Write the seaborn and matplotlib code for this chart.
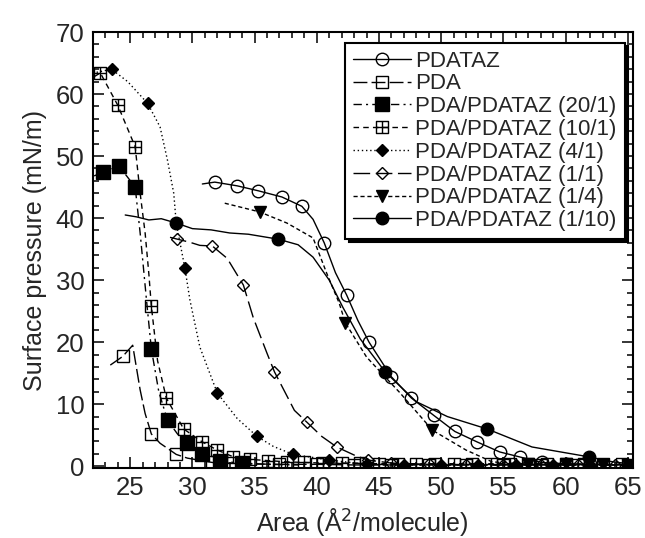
import numpy as np
import pandas as pd
import seaborn as sns
import matplotlib.pyplot as plt
from matplotlib.path import Path
from matplotlib.ticker import MultipleLocator

sns.set_style('ticks')
plt.rcParams['font.family'] = ['Liberation Sans', 'DejaVu Sans']

# data (area in A^2/molecule, pressure in mN/m)
pdataz_x = [30.8, 31.8, 33.6, 35.3, 37.2, 38.8, 39.7, 40.6, 41.5, 42.4, 43.3, 44.2, 46.0, 47.6,
            49.4, 51.1, 52.9, 54.7, 56.3, 58.1, 60.0, 62.0, 64.0, 65.4]
pdataz_y = [45.5, 45.8, 45.2, 44.4, 43.4, 41.9, 39.8, 36.0, 31.2, 27.6, 23.5, 20.0, 14.4, 11.0,
            8.2, 5.6, 3.9, 2.3, 1.5, 0.6, 0.4, 0.3, 0.2, 0.2]
pdataz_mk = [1, 2, 3, 4, 5, 7, 9, 11, 12, 13, 14, 15, 16, 17, 18, 19, 20, 21]

pda_x = [23.4, 24.4, 25.2, 25.8, 26.2, 26.7, 27.4, 28.2, 28.7, 29.6, 31.6, 34.0, 37.0, 40.0,
         43.0, 46.0, 49.0, 52.0, 55.0, 58.0, 61.0]
pda_y = [16.3, 17.7, 19.5, 12.3, 8.5, 5.2, 3.7, 2.6, 1.9, 1.3, 0.6, 0.4, 0.3, 0.3,
         0.2, 0.2, 0.2, 0.2, 0.2, 0.2, 0.2]
pda_mk = [1, 5, 8, 10, 11, 12, 13, 14, 15, 16, 17, 18, 19, 20]

p20_x = [22.1, 22.8, 24.1, 25.4, 25.8, 26.3, 26.7, 27.3, 28.0, 28.8, 29.6, 30.8, 32.2, 34.0, 36.0, 38.5]
p20_y = [46.8, 47.4, 48.4, 45.0, 37.6, 27.0, 18.9, 12.0, 7.4, 5.2, 3.7, 1.9, 0.8, 0.5, 0.3, 0.2]
p20_mk = [1, 2, 3, 6, 8, 10, 11, 12, 13]

p10_x = [22.1, 22.6, 24.0, 25.4, 25.8, 26.2, 26.5, 26.7, 27.2, 27.9, 29.3, 30.8, 32.0, 33.3,
         34.6, 36.1, 37.6, 39.0, 40.5, 42.0, 43.5, 45.0, 46.5, 48.0, 49.5, 51.0, 52.5, 54.0,
         55.5, 57.0, 58.5, 60.0, 61.5, 63.0, 64.5]
p10_y = [62.8, 63.4, 58.2, 51.5, 44.0, 37.6, 31.0, 25.8, 17.0, 11.0, 6.0, 3.9, 2.6, 1.5,
         1.1, 0.9, 0.7, 0.6, 0.5, 0.5, 0.5, 0.4, 0.4, 0.4, 0.4, 0.4, 0.4, 0.4,
         0.4, 0.4, 0.4, 0.4, 0.3, 0.3, 0.3]
p10_mk = [1, 2, 3, 7] + list(range(9, 35))

p4_x = [22.3, 23.5, 24.8, 26.4, 27.4, 28.0, 28.5, 28.7, 29.4, 29.8, 30.6, 32.0, 33.6, 35.2,
        36.5, 38.1, 41.0, 44.0, 47.0, 50.0, 53.0, 56.0, 59.0, 62.0, 65.0]
p4_y = [63.5, 64.0, 62.0, 58.5, 54.7, 49.3, 44.0, 39.2, 31.9, 26.8, 19.2, 11.8, 7.7, 4.8,
        3.2, 1.9, 1.0, 0.3, 0.2, 0.2, 0.2, 0.2, 0.2, 0.2, 0.2]
p4_mk = [1, 3, 7, 8, 11, 13, 15, 16, 17, 18, 19, 20, 21, 22, 23, 24]

p11_x = [28.2, 28.8, 29.8, 30.6, 31.6, 32.8, 34.1, 34.9, 36.0, 36.6, 38.2, 39.2, 40.4, 41.6,
         43.0, 44.1, 46.0, 49.0, 52.0, 55.0, 58.0, 61.0, 64.0]
p11_y = [36.9, 36.6, 36.1, 35.6, 35.5, 33.5, 29.2, 23.9, 18.2, 15.2, 9.0, 7.1, 4.8, 3.1,
         1.8, 1.0, 0.5, 0.3, 0.2, 0.2, 0.2, 0.2, 0.2]
p11_mk = [1, 4, 6, 9, 11, 13, 15, 16, 17, 18, 19, 20, 21, 22]

p14_x = [32.6, 35.4, 37.6, 39.7, 40.8, 41.8, 42.3, 44.0, 46.7, 49.3, 52.0, 54.1, 57.0, 60.0, 63.0, 65.0]
p14_y = [42.4, 41.0, 39.2, 36.8, 31.1, 26.3, 23.1, 17.6, 11.8, 5.8, 2.6, 0.7, 0.3, 0.3, 0.2, 0.2]
p14_mk = [1, 6, 9, 12, 13, 14, 15]

p110_x = [24.6, 25.5, 26.5, 27.5, 28.7, 30.0, 31.5, 33.0, 34.5, 36.9, 38.5, 39.7, 41.0, 42.1,
          43.5, 45.5, 48.0, 50.5, 53.7, 57.3, 61.9, 63.5, 65.4]
p110_y = [40.5, 40.2, 39.7, 39.9, 39.2, 38.3, 38.1, 37.6, 37.4, 36.6, 35.7, 33.7, 30.0, 25.6,
          20.5, 15.2, 10.4, 8.0, 6.0, 3.1, 1.5, 0.8, 0.3]
p110_mk = [4, 9, 15, 18, 20]

# square with a cross inside
boxplus = Path([(-1, -1), (1, -1), (1, 1), (-1, 1), (-1, -1), (0, -1), (0, 1), (-1, 0), (1, 0)],
               [Path.MOVETO, Path.LINETO, Path.LINETO, Path.LINETO, Path.CLOSEPOLY,
                Path.MOVETO, Path.LINETO, Path.MOVETO, Path.LINETO])

series = [
    ('PDATAZ', pdataz_x, pdataz_y, pdataz_mk, '-', 'o', 'none', 9),
    ('PDA', pda_x, pda_y, pda_mk, (0, (10, 3)), 's', 'none', 8),
    ('PDA/PDATAZ (20/1)', p20_x, p20_y, p20_mk, (0, (6, 3, 1.5, 3)), 's', 'black', 10),
    ('PDA/PDATAZ (10/1)', p10_x, p10_y, p10_mk, (0, (4, 3)), boxplus, 'none', 8),
    ('PDA/PDATAZ (4/1)', p4_x, p4_y, p4_mk, (0, (1, 2)), 'D', 'black', 6),
    ('PDA/PDATAZ (1/1)', p11_x, p11_y, p11_mk, (0, (12, 4)), 'D', 'none', 6),
    ('PDA/PDATAZ (1/4)', p14_x, p14_y, p14_mk, (0, (3, 2)), 'v', 'black', 8),
    ('PDA/PDATAZ (1/10)', p110_x, p110_y, p110_mk, '-', 'o', 'black', 9),
]

fig = plt.figure(figsize=(6.45, 5.38), dpi=100)
ax = fig.add_axes([0.144, 0.130, 0.837, 0.8105])

for name, xs, ys, mk, ls, marker, fc, ms in series:
    df = pd.DataFrame({'area': xs, 'pressure': ys})
    sns.lineplot(data=df, x='area', y='pressure', ax=ax, sort=False, estimator=None,
                 color='black', linewidth=1.0, linestyle=ls, marker=marker,
                 markerfacecolor=fc, markeredgecolor='black', markeredgewidth=1.0,
                 markersize=ms, markevery=mk, label=name)

ax.set_xlim(22, 65.4)
ax.set_ylim(-0.3, 70)
ax.xaxis.set_major_locator(MultipleLocator(5))
ax.xaxis.set_minor_locator(MultipleLocator(1))
ax.yaxis.set_major_locator(MultipleLocator(10))
ax.yaxis.set_minor_locator(MultipleLocator(2))
ax.tick_params(which='both', direction='in', top=True, right=True, width=1.3, labelsize=18.5)
ax.tick_params(which='major', length=8, pad=6)
ax.tick_params(which='minor', length=4)
for s in ax.spines.values():
    s.set_linewidth(1.5)
    s.set_color('black')

ax.set_xlabel('Area (Å$^2$/molecule)', fontsize=18, labelpad=4)
ax.set_ylabel('Surface pressure (mN/m)', fontsize=18, labelpad=6)

leg = ax.legend(loc='upper right', bbox_to_anchor=(0.985, 0.975), borderaxespad=0,
                fontsize=16, handlelength=2.6, handletextpad=0.2, labelspacing=0.08,
                borderpad=0.35, fancybox=False, framealpha=1, edgecolor='black',
                shadow={'color': 'black', 'alpha': 1, 'ox': 2.5, 'oy': -2.5})
leg.get_frame().set_linewidth(1.5)

plt.savefig('out.png', dpi=100)
